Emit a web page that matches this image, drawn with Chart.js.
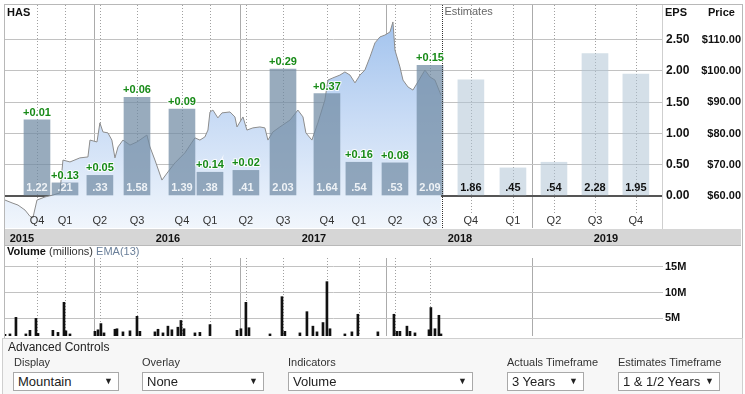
<!DOCTYPE html>
<html>
<head>
<meta charset="utf-8">
<script src="https://cdn.jsdelivr.net/npm/chart.js@4.4.0/dist/chart.umd.min.js"></script>
<style>
  body { margin: 0; background: #fff; font-family: "Liberation Sans", Arial, sans-serif; width: 745px; height: 394px; position: relative; overflow: hidden; }
  canvas { position: absolute; left: 0; }
  #main { top: 0; }
  #vol { top: 246px; }
  #frame { position: absolute; left: 4px; top: 4px; width: 737px; height: 333px; border: 1px solid #b8b8b8; pointer-events: none; }
  .lbl { position: absolute; font-size: 11px; font-weight: bold; color: #111; line-height: 13px; white-space: nowrap; }
  #controls { position: absolute; left: 2px; top: 338px; width: 739px; height: 55px; background: #f7f7f7; border: 1px solid #cfcfcf; }
  .ctl { position: absolute; font-size: 11px; color: #333; white-space: nowrap; }
  .sel { position: absolute; top: 372px; border: 1px solid #a9a9a9; background: #fff; font-size: 13px; line-height: 17px; color: #222; box-sizing: border-box; height: 19px; padding-left: 4px; white-space: nowrap; }
  .sel span { position: absolute; right: 5px; top: 0; font-size: 9px; }
</style>
</head>
<body>
<canvas id="main" width="745" height="246"></canvas>
<canvas id="vol" width="745" height="92"></canvas>
<div id="frame"></div>

<div class="lbl" style="left:7px; top:6px;">HAS</div>
<div class="lbl" style="left:665px; top:6px;">EPS</div>
<div class="lbl" style="left:708px; top:6px;">Price</div>
<div class="lbl" style="left:7px; top:245px;">Volume <span style="font-weight:normal; color:#333;">(millions)</span> <span style="font-weight:normal; color:#6a7f99;">EMA(13)</span></div>

<div id="controls"></div>
<div class="ctl" style="left:8px; top:340px; font-size:12px; color:#222;">Advanced Controls</div>
<div class="ctl" style="left:14px; top:356px;">Display</div>
<div class="ctl" style="left:142px; top:356px;">Overlay</div>
<div class="ctl" style="left:288px; top:356px;">Indicators</div>
<div class="ctl" style="left:507px; top:356px;">Actuals Timeframe</div>
<div class="ctl" style="left:618px; top:356px;">Estimates Timeframe</div>
<div class="sel" style="left:13px; width:106px;">Mountain<span>▼</span></div>
<div class="sel" style="left:142px; width:122px;">None<span>▼</span></div>
<div class="sel" style="left:288px; width:185px;">Volume<span>▼</span></div>
<div class="sel" style="left:507px; width:77px;">3 Years<span>▼</span></div>
<div class="sel" style="left:618px; width:102px;">1 &amp; 1/2 Years<span>▼</span></div>

<script>
// axis ticks
const epsTicks = [0, 0.5, 1, 1.5, 2, 2.5];
const priceTicks = [60, 70, 80, 90, 100, 110];
const volumeTicks = [5, 10, 15];
const yearTicks = [2015, 2016, 2017, 2018, 2019];

// reported quarters (dates as decimal years)
const actualDates = [2015.103, 2015.295, 2015.534, 2015.788, 2016.096, 2016.288, 2016.534, 2016.788, 2017.089, 2017.308, 2017.555, 2017.795];
const actualEps = [1.22, 0.21, 0.33, 1.58, 1.39, 0.38, 0.41, 2.03, 1.64, 0.54, 0.53, 2.09];
const surprises = [0.01, 0.13, 0.05, 0.06, 0.09, 0.14, 0.02, 0.29, 0.37, 0.16, 0.08, 0.15];
const actualQuarters = ['Q4', 'Q1', 'Q2', 'Q3', 'Q4', 'Q1', 'Q2', 'Q3', 'Q4', 'Q1', 'Q2', 'Q3'];

// estimates
const estimatesStart = 2017.877;
const estimateDates = [2018.075, 2018.363, 2018.644, 2018.925, 2019.205];
const estimateEps = [1.86, 0.45, 0.54, 2.28, 1.95];
const estimateQuarters = ['Q4', 'Q1', 'Q2', 'Q3', 'Q4'];

// share price
const priceDates = [2014.884, 2014.932, 2014.973, 2015.021, 2015.055, 2015.075, 2015.103, 2015.158, 2015.212, 2015.260,
  2015.281, 2015.329, 2015.397, 2015.452, 2015.466, 2015.514, 2015.534, 2015.555, 2015.589, 2015.616,
  2015.637, 2015.658, 2015.692, 2015.740, 2015.788, 2015.856, 2015.877, 2015.911, 2015.959, 2016.000,
  2016.048, 2016.116, 2016.185, 2016.219, 2016.253, 2016.274, 2016.288, 2016.308, 2016.342, 2016.370,
  2016.425, 2016.459, 2016.473, 2016.514, 2016.541, 2016.582, 2016.630, 2016.664, 2016.685, 2016.719,
  2016.767, 2016.836, 2016.890, 2016.925, 2016.945, 2016.986, 2017.027, 2017.075, 2017.096, 2017.130,
  2017.178, 2017.212, 2017.247, 2017.281, 2017.315, 2017.349, 2017.384, 2017.418, 2017.452, 2017.486,
  2017.521, 2017.541, 2017.555, 2017.589, 2017.610, 2017.644, 2017.678, 2017.712, 2017.760, 2017.795,
  2017.829, 2017.870];
const priceValues = [58.7, 57.8, 57.1, 55.5, 53.5, 53.0, 58.7, 59.7, 60.3, 61.0,
  71.5, 70.9, 72.2, 72.5, 77.9, 77.3, 83.4, 80.5, 80.2, 77.9,
  72.2, 75.7, 77.9, 76.3, 77.3, 79.5, 75.7, 71.5, 65.1, 67.7,
  70.6, 73.8, 78.6, 77.9, 78.9, 81.1, 86.9, 87.5, 85.0, 86.6,
  86.9, 85.3, 82.1, 85.3, 81.1, 81.8, 82.1, 81.8, 77.9, 80.5,
  82.1, 84.3, 87.5, 85.3, 80.2, 77.9, 83.4, 90.7, 97.1, 97.8,
  98.7, 99.7, 98.7, 96.2, 98.7, 100.3, 104.5, 109.0, 110.9, 111.5,
  112.5, 115.7, 106.7, 101.3, 97.1, 94.9, 93.9, 96.5, 100.3, 98.1,
  97.1, 92.3];

// volume (millions)
const volumeDates = [2014.884, 2014.918, 2014.959, 2015.027, 2015.055, 2015.096, 2015.110, 2015.212, 2015.247, 2015.288,
  2015.301, 2015.329, 2015.500, 2015.521, 2015.541, 2015.562, 2015.637, 2015.651, 2015.692, 2015.740,
  2015.788, 2015.808, 2015.911, 2015.932, 2015.966, 2016.000, 2016.027, 2016.068, 2016.089, 2016.110,
  2016.185, 2016.219, 2016.288, 2016.473, 2016.500, 2016.534, 2016.555, 2016.699, 2016.781, 2016.801,
  2016.904, 2016.952, 2016.993, 2017.021, 2017.062, 2017.089, 2017.110, 2017.212, 2017.260, 2017.301,
  2017.438, 2017.548, 2017.568, 2017.589, 2017.637, 2017.658, 2017.692, 2017.788, 2017.801, 2017.829,
  2017.856, 2017.870];
const volumeValues = [1.9, 2.0, 5.2, 2.0, 2.7, 5.0, 2.1, 2.7, 2.3, 8.1,
  2.6, 2.0, 2.5, 2.8, 4.0, 2.2, 2.9, 3.0, 2.4, 2.6,
  5.4, 2.5, 2.4, 2.9, 2.2, 3.5, 2.8, 3.3, 4.6, 3.0,
  2.2, 2.3, 3.8, 2.7, 3.0, 8.1, 3.2, 2.0, 9.2, 2.5,
  2.2, 6.3, 3.5, 2.4, 4.2, 12.1, 3.0, 2.0, 2.4, 5.8,
  2.4, 5.8, 2.5, 2.5, 3.5, 2.5, 2.2, 2.8, 7.1, 3.0,
  5.6, 2.0];

const xMin = 2014.884, xMax = 2019.384;
const FONT = '"Liberation Sans", Arial, sans-serif';

function epsText(v) {
    const s = v.toFixed(2);
    return v < 1 ? s.slice(1) : s;
}

function fixTicks(list) {
    return function (scale) { scale.ticks = list.map(v => ({ value: v })); };
}

// fixed box size, and no extra room reserved for overhanging tick labels
function fitBox(w, h) {
    return function (s) {
        if (w !== null) s.width = w;
        if (h !== null) s.height = h;
        s.paddingTop = 0; s.paddingBottom = 0; s.paddingLeft = 0; s.paddingRight = 0;
    };
}

const mainDecor = {
    id: 'mainDecor',
    beforeDraw(chart) {
        const ctx = chart.ctx;
        const top = chart.scales.x.top;
        ctx.save();
        ctx.fillStyle = '#d6d6d6';
        ctx.fillRect(5, top + 1, 736, 17);
        ctx.fillStyle = '#b9b9b9';
        ctx.fillRect(5, top + 17, 736, 1);
        ctx.restore();
    },
    beforeDatasetsDraw(chart) {
        const ctx = chart.ctx;
        const x = chart.scales.x;
        const area = chart.chartArea;
        ctx.save();
        ctx.strokeStyle = '#a0a0a0';
        ctx.lineWidth = 1;
        ctx.setLineDash([1, 2]);
        actualDates.concat(estimateDates).forEach(d => {
            const px = Math.round(x.getPixelForValue(d)) + 0.5;
            ctx.beginPath();
            ctx.moveTo(px, area.top);
            ctx.lineTo(px, area.bottom - 14);
            ctx.stroke();
        });
        ctx.restore();
    },
    afterDatasetsDraw(chart) {
        const ctx = chart.ctx;
        const x = chart.scales.x;
        const y = chart.scales.y;
        const area = chart.chartArea;
        const zero = y.getPixelForValue(0);
        ctx.save();

        // estimates divider
        const ex = Math.round(x.getPixelForValue(estimatesStart)) + 0.5;
        ctx.strokeStyle = '#333';
        ctx.setLineDash([1, 1]);
        ctx.beginPath();
        ctx.moveTo(ex, area.top);
        ctx.lineTo(ex, area.bottom);
        ctx.stroke();
        ctx.setLineDash([]);
        ctx.font = '11px ' + FONT;
        ctx.fillStyle = '#666';
        ctx.textAlign = 'left';
        ctx.textBaseline = 'middle';
        ctx.fillText('Estimates', ex + 2, 12);

        ctx.textAlign = 'center';
        const actualBars = chart.getDatasetMeta(1).data;
        const estBars = chart.getDatasetMeta(2).data;

        ctx.font = 'bold 11px ' + FONT;
        actualBars.forEach((bar, i) => {
            ctx.fillStyle = '#eef2f6';
            ctx.fillText(epsText(actualEps[i]), bar.x, zero - 8);
            const s = '+' + surprises[i].toFixed(2);
            ctx.lineWidth = 2;
            ctx.strokeStyle = 'rgba(255,255,255,0.85)';
            ctx.strokeText(s, bar.x, bar.y - 7);
            ctx.fillStyle = '#178a17';
            ctx.fillText(s, bar.x, bar.y - 7);
        });
        estBars.forEach((bar, i) => {
            ctx.fillStyle = '#111';
            ctx.fillText(epsText(estimateEps[i]), bar.x, zero - 8);
        });

        ctx.font = '11px ' + FONT;
        ctx.fillStyle = '#333';
        actualBars.forEach((bar, i) => ctx.fillText(actualQuarters[i], bar.x, area.bottom - 7));
        estBars.forEach((bar, i) => ctx.fillText(estimateQuarters[i], bar.x, area.bottom - 7));
        ctx.restore();
    }
};

const volDecor = {
    id: 'volDecor',
    beforeDatasetsDraw(chart) {
        const ctx = chart.ctx;
        const x = chart.scales.x;
        const area = chart.chartArea;
        ctx.save();
        ctx.strokeStyle = '#a0a0a0';
        ctx.setLineDash([1, 2]);
        actualDates.forEach(d => {
            const px = Math.round(x.getPixelForValue(d)) + 0.5;
            ctx.beginPath();
            ctx.moveTo(px, area.top);
            ctx.lineTo(px, area.bottom);
            ctx.stroke();
        });
        ctx.restore();
    }
};

new Chart(document.getElementById('main'), {
    type: 'bar',
    data: {
        datasets: [{
            type: 'line',
            label: 'Price',
            yAxisID: 'yp',
            order: 2,
            data: priceDates.map((d, i) => ({ x: d, y: priceValues[i] })),
            borderColor: '#8c8c8c',
            borderWidth: 1,
            pointRadius: 0,
            tension: 0,
            fill: 'start',
            backgroundColor: function (c) {
                const a = c.chart.chartArea;
                if (!a) return 'rgba(170,200,240,0.5)';
                const g = c.chart.ctx.createLinearGradient(0, a.top, 0, a.bottom);
                g.addColorStop(0, '#9cbfec');
                g.addColorStop(0.5, '#c8dbf5');
                g.addColorStop(1, '#f1f6fc');
                return g;
            }
        }, {
            label: 'Actual EPS',
            yAxisID: 'y',
            order: 0,
            grouped: false,
            barThickness: 26,
            data: actualDates.map((d, i) => ({ x: d, y: actualEps[i] })),
            backgroundColor: 'rgba(112,138,164,0.72)'
        }, {
            label: 'Estimate EPS',
            yAxisID: 'y',
            order: 0,
            grouped: false,
            barThickness: 26,
            data: estimateDates.map((d, i) => ({ x: d, y: estimateEps[i] })),
            backgroundColor: 'rgba(176,196,213,0.55)'
        }]
    },
    options: {
        responsive: false,
        animation: false,
        devicePixelRatio: 1,
        layout: { padding: { left: 5, top: 5, right: 4, bottom: 0 } },
        plugins: { legend: { display: false }, tooltip: { enabled: false } },
        scales: {
            x: {
                type: 'linear',
                min: xMin,
                max: xMax,
                offset: false,
                afterBuildTicks: fixTicks(yearTicks),
                afterFit: fitBox(null, 18),
                grid: { color: '#ababab', drawTicks: false },
                border: { display: false },
                ticks: {
                    autoSkip: false,
                    maxRotation: 0,
                    padding: 4,
                    color: '#111',
                    font: { family: FONT, size: 11, weight: 'bold' },
                    callback: v => String(v)
                }
            },
            y: {
                position: 'right',
                weight: 0,
                min: -0.512,
                max: 3.056,
                afterBuildTicks: fixTicks(epsTicks),
                afterFit: fitBox(35, null),
                grid: {
                    color: c => c.tick && c.tick.value === 0 ? '#555' : '#c2c2c2',
                    lineWidth: c => c.tick && c.tick.value === 0 ? 2 : 1,
                    tickLength: 1
                },
                border: { display: true, color: '#cfcfcf' },
                ticks: {
                    padding: 3,
                    crossAlign: 'near',
                    color: '#111',
                    font: { family: FONT, size: 12, weight: 'bold' },
                    callback: v => v.toFixed(2)
                }
            },
            yp: {
                position: 'right',
                weight: 1,
                min: 49.76,
                max: 121.12,
                afterBuildTicks: fixTicks(priceTicks),
                afterFit: fitBox(44, null),
                grid: { display: false, drawTicks: false },
                border: { display: false },
                ticks: {
                    padding: 0,
                    crossAlign: 'far',
                    color: '#111',
                    font: { family: FONT, size: 11, weight: 'bold' },
                    callback: v => '$' + v.toFixed(2)
                }
            }
        }
    },
    plugins: [mainDecor]
});

new Chart(document.getElementById('vol'), {
    type: 'bar',
    data: {
        datasets: [{
            label: 'Volume',
            grouped: false,
            barThickness: 2,
            data: volumeDates.map((d, i) => ({ x: d, y: volumeValues[i] })),
            backgroundColor: '#111'
        }]
    },
    options: {
        responsive: false,
        animation: false,
        devicePixelRatio: 1,
        layout: { padding: { left: 5, top: 12, right: 4, bottom: 2 } },
        plugins: { legend: { display: false }, tooltip: { enabled: false } },
        scales: {
            x: {
                type: 'linear',
                min: xMin,
                max: xMax,
                offset: false,
                afterBuildTicks: fixTicks(yearTicks),
                afterFit: fitBox(null, 0),
                grid: { color: '#ababab', drawTicks: false },
                border: { display: false },
                ticks: { display: false }
            },
            y: {
                position: 'right',
                min: 1.6,
                max: 16.67,
                afterBuildTicks: fixTicks(volumeTicks),
                afterFit: fitBox(79, null),
                grid: { color: '#c2c2c2', tickLength: 1 },
                border: { display: false },
                ticks: {
                    padding: 2,
                    crossAlign: 'near',
                    color: '#111',
                    font: { family: FONT, size: 11, weight: 'bold' },
                    callback: v => v + 'M'
                }
            }
        }
    },
    plugins: [volDecor]
});
</script>
</body>
</html>
